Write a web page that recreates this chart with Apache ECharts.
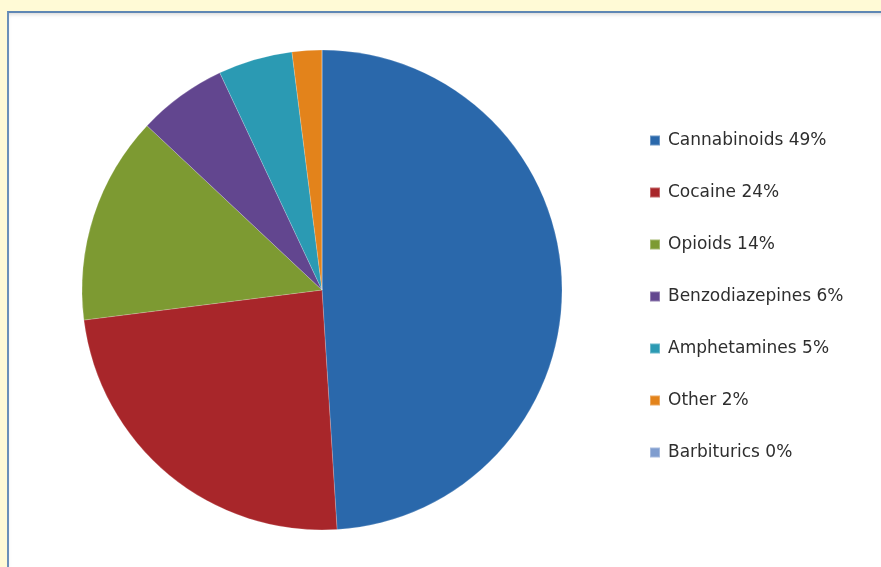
<!DOCTYPE html>
<html>
<head>
<meta charset="utf-8">
<script src="https://cdn.jsdelivr.net/npm/echarts@6/dist/echarts.min.js"></script>
<style>
  html, body { margin: 0; padding: 0; background: #fffad6; overflow: hidden; }
  #panel {
    position: absolute; left: 7px; top: 11px; width: 874px; height: 556px;
    background: #fff;
    border-left: 2px solid #6b90b9; border-top: 2px solid #5f87b4;
    box-shadow: inset 0 3px 4px -2px rgba(120,120,120,0.35);
  }
  #chart { position: absolute; left: 0; top: 0; width: 874px; height: 556px; }
</style>
</head>
<body>
<div id="panel"><div id="chart"></div></div>
<script>
// drug categories and their share of the total (%)
const categories = ['Cannabinoids', 'Cocaine', 'Opioids', 'Benzodiazepines', 'Amphetamines', 'Other', 'Barbiturics'];
const shares = [49, 24, 14, 6, 5, 2, 0];
const colors = ['#2a68ab', '#a8262a', '#7d9a32', '#62468f', '#2b9ab3', '#e3831b', '#7f9dcf'];

const chart = echarts.init(document.getElementById('chart'));

const option = {
  animation: false,
  color: colors,
  legend: {
    orient: 'vertical',
    left: 635,
    top: 112,
    itemWidth: 10,
    itemHeight: 10,
    itemGap: 31,
    icon: 'rect',
    selectedMode: false,
    textStyle: {
      fontFamily: 'DejaVu Sans',
      fontSize: 17,
      lineHeight: 21,
      color: '#2e2e2e',
      padding: [0, 0, 0, 3]
    },
    formatter: function (name) {
      const i = categories.indexOf(name);
      return name + ' ' + shares[i] + '%';
    },
    data: categories
  },
  series: [{
    type: 'pie',
    center: [313, 277],
    radius: 240,
    startAngle: 90,
    clockwise: true,
    label: { show: false },
    labelLine: { show: false },
    emphasis: { disabled: true },
    itemStyle: { borderColor: 'rgba(255,255,255,0.3)', borderWidth: 0.6 },
    data: categories.map((name, i) => ({ name: name, value: shares[i] }))
  }]
};

chart.setOption(option);
</script>
</body>
</html>
